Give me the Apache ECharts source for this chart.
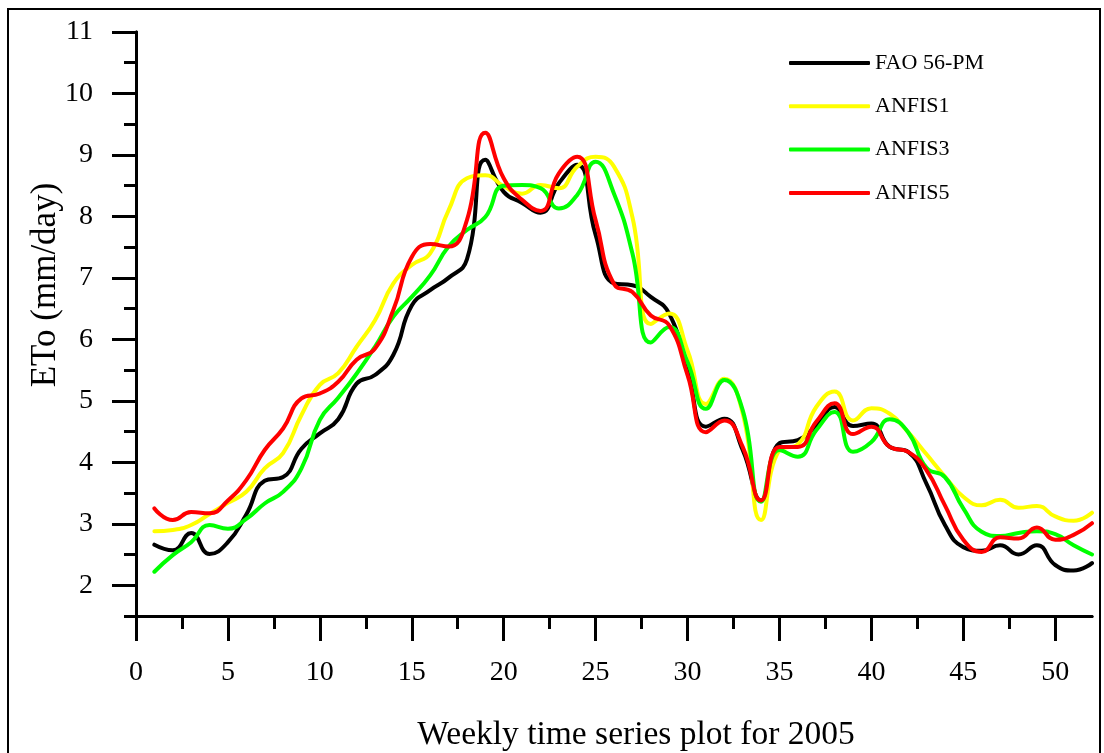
<!DOCTYPE html>
<html>
<head>
<meta charset="utf-8">
<title>Weekly ETo 2005</title>
<script src="https://cdn.jsdelivr.net/npm/echarts@6/dist/echarts.min.js"></script>
<style>
  html, body { margin: 0; padding: 0; background: #ffffff; }
  #chart { width: 1104px; height: 753px; }
</style>
</head>
<body>
<div id="chart"></div>
<script>
// Week numbers (x) for every series
const weeks = [1,2,3,4,5,6,7,8,9,10,11,12,13,14,15,16,17,18,19,20,21,22,23,24,25,26,
               27,28,29,30,31,32,33,34,35,36,37,38,39,40,41,42,43,44,45,46,47,48,49,50,51,52];

// Weekly reference ETo and model estimates (mm/day)
const fao56pm = [2.66,2.57,2.85,2.51,2.70,3.15,3.70,3.76,4.22,4.47,4.70,5.28,5.42,5.75,6.55,6.80,7.00,7.30,8.92,8.40,
                 8.22,8.06,8.54,8.84,7.70,6.91,6.88,6.69,6.42,5.50,4.58,4.71,4.20,3.38,4.31,4.36,4.60,4.90,4.59,4.63,
                 4.25,4.17,3.65,2.98,2.62,2.56,2.65,2.50,2.65,2.33,2.24,2.36];
const anfis1  = [2.88,2.90,2.98,3.16,3.34,3.52,3.90,4.15,4.77,5.26,5.45,5.88,6.31,6.91,7.21,7.40,8.10,8.62,8.67,8.49,
                 8.37,8.51,8.46,8.81,8.97,8.81,7.99,6.25,6.42,5.82,4.95,5.36,4.80,3.06,4.20,4.29,4.90,5.15,4.68,4.88,
                 4.79,4.49,4.13,3.77,3.44,3.30,3.39,3.26,3.29,3.12,3.05,3.18];
const anfis3  = [2.22,2.49,2.70,2.98,2.92,3.08,3.33,3.52,3.90,4.69,5.05,5.44,5.88,6.37,6.69,7.04,7.51,7.78,7.99,8.50,
                 8.51,8.46,8.13,8.35,8.89,8.37,7.40,5.95,6.20,5.63,4.87,5.34,4.85,3.36,4.20,4.09,4.52,4.82,4.17,4.33,
                 4.70,4.49,3.91,3.76,3.25,2.87,2.80,2.85,2.88,2.83,2.65,2.50];
const anfis5  = [3.25,3.06,3.19,3.17,3.38,3.71,4.20,4.55,5.04,5.12,5.31,5.67,5.85,6.48,7.34,7.55,7.51,7.94,9.36,8.62,
                 8.27,8.09,8.70,8.97,7.94,6.90,6.77,6.39,6.23,5.42,4.49,4.68,4.25,3.38,4.25,4.25,4.66,4.96,4.46,4.58,
                 4.25,4.17,3.87,3.30,2.74,2.54,2.78,2.76,2.94,2.74,2.82,3.01];

const seriesNames = ['FAO 56-PM', 'ANFIS1', 'ANFIS3', 'ANFIS5'];
const seriesColors = ['#000000', '#ffff00', '#00ff00', '#ff0000'];
const seriesValues = [fao56pm, anfis1, anfis3, anfis5];

// Tick positions and labels
const xMajorTicks = [0,5,10,15,20,25,30,35,40,45,50];
const xMinorTicks = [2.5,7.5,12.5,17.5,22.5,27.5,32.5,37.5,42.5,47.5];
const yMajorTicks = [2,3,4,5,6,7,8,9,10,11];
const yMinorTicks = [1.5,2.5,3.5,4.5,5.5,6.5,7.5,8.5,9.5,10.5];

const xTitle = 'Weekly time series plot for 2005';
const yTitle = 'ETo (mm/day)';

const FONT = '"Liberation Serif", "Times New Roman", serif';
const black = '#000000';

const chart = echarts.init(document.getElementById('chart'), null, { renderer: 'canvas' });

const axisLineStyle = { show: true, lineStyle: { color: black, width: 3 } };

function xAxisDef(ticks, len, showLabels) {
  return {
    type: 'value', min: 0, max: 52, position: 'bottom',
    axisLine: axisLineStyle,
    axisTick: { show: true, inside: false, length: len, customValues: ticks,
                lineStyle: { color: black, width: 3 } },
    axisLabel: { show: showLabels, customValues: ticks, margin: 43,
                 fontFamily: FONT, fontSize: 28, color: black },
    splitLine: { show: false }
  };
}
function yAxisDef(ticks, len, showLabels) {
  return {
    type: 'value', min: 1.5, max: 11, position: 'left',
    axisLine: axisLineStyle,
    axisTick: { show: true, inside: false, length: len, customValues: ticks,
                lineStyle: { color: black, width: 3 } },
    axisLabel: { show: showLabels, customValues: ticks, margin: 43,
                 fontFamily: FONT, fontSize: 28, color: black },
    splitLine: { show: false }
  };
}

const option = {
  backgroundColor: '#ffffff',
  animation: false,
  grid: { left: 136, right: 12, top: 32, bottom: 137, containLabel: false },
  xAxis: [xAxisDef(xMinorTicks, 13, false), xAxisDef(xMajorTicks, 25, true)],
  yAxis: [yAxisDef(yMajorTicks, 24, true), yAxisDef(yMinorTicks, 12, false)],
  legend: {
    orient: 'vertical', left: 789, top: 47, padding: 0,
    itemWidth: 81, itemHeight: 4, itemGap: 11.3,
    icon: 'roundRect',
    data: seriesNames,
    textStyle: { fontFamily: FONT, fontSize: 22, lineHeight: 22, color: black,
                 padding: [10, 0, 0, 0] }
  },
  graphic: [
    { type: 'rect', shape: { x: 8, y: 9, width: 1092, height: 800 },
      style: { fill: 'none', stroke: black, lineWidth: 2 }, silent: true, z: -1 },
    { type: 'text', x: 46, y: 285, rotation: Math.PI / 2,
      style: { text: yTitle, fontFamily: FONT, fontSize: 35, fill: black,
               align: 'center', verticalAlign: 'middle' } },
    { type: 'text', x: 636, y: 735,
      style: { text: xTitle, fontFamily: FONT, fontSize: 33.5, fill: black,
               align: 'center', verticalAlign: 'middle' } }
  ],
  series: seriesNames.map((name, i) => ({
    name: name,
    type: 'line',
    xAxisIndex: 1,
    yAxisIndex: 0,
    data: weeks.map((w, k) => [w, seriesValues[i][k]]),
    symbol: 'none',
    smooth: 0.5,
    color: seriesColors[i],
    lineStyle: { color: seriesColors[i], width: 4, cap: 'round', join: 'round' },
    z: 2 + i
  }))
};

chart.setOption(option);
</script>
</body>
</html>
